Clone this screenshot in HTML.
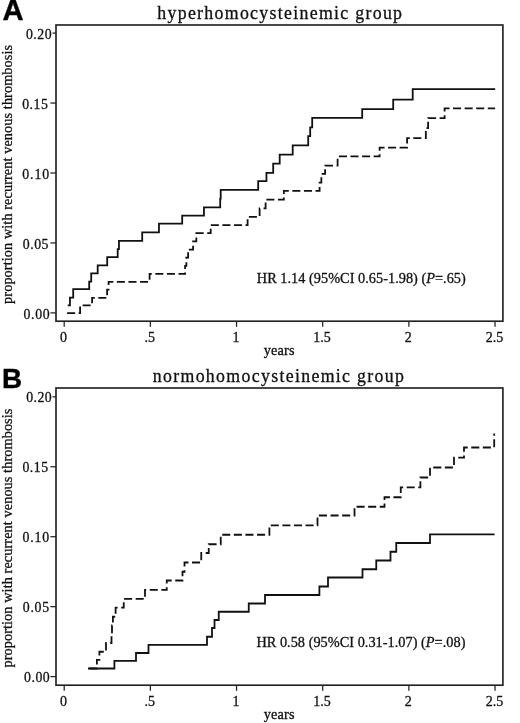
<!DOCTYPE html>
<html><head><meta charset="utf-8"><title>Recurrent venous thrombosis</title>
<style>
html,body{margin:0;padding:0;background:#fff;}
body{width:520px;height:723px;overflow:hidden;}
svg{display:block;filter:grayscale(1) blur(0.45px);}
.s{font-family:"Liberation Serif",serif;fill:#111;stroke:#111;stroke-width:0.3px;}
.b{font-family:"Liberation Sans",sans-serif;font-weight:bold;fill:#000;stroke:#000;stroke-width:0.4px;}
</style></head>
<body>
<svg width="520" height="723" viewBox="0 0 520 723">
<rect width="520" height="723" fill="#fff"/>
<rect x="56.0" y="25" width="446.90" height="296.20" fill="none" stroke="#222" stroke-width="1.65"/>
<line x1="50.4" y1="312.90" x2="56.0" y2="312.90" stroke="#222" stroke-width="1.25"/>
<text x="23.45" y="318.50" font-size="13.8" class="s" textLength="26.30" lengthAdjust="spacing">0.00</text>
<line x1="50.4" y1="242.95" x2="56.0" y2="242.95" stroke="#222" stroke-width="1.25"/>
<text x="22.80" y="248.55" font-size="13.8" class="s" textLength="25.70" lengthAdjust="spacing">0.05</text>
<line x1="50.4" y1="173.00" x2="56.0" y2="173.00" stroke="#222" stroke-width="1.25"/>
<text x="22.20" y="178.60" font-size="13.8" class="s" textLength="26.90" lengthAdjust="spacing">0.10</text>
<line x1="50.4" y1="103.05" x2="56.0" y2="103.05" stroke="#222" stroke-width="1.25"/>
<text x="22.20" y="108.65" font-size="13.8" class="s" textLength="25.70" lengthAdjust="spacing">0.15</text>
<line x1="52.5" y1="33.10" x2="56.0" y2="33.10" stroke="#222" stroke-width="1.25"/>
<text x="25.95" y="38.70" font-size="13.8" class="s" textLength="25.65" lengthAdjust="spacing">0.20</text>
<line x1="64.20" y1="321.2" x2="64.20" y2="326.80" stroke="#222" stroke-width="1.25"/>
<text x="63.60" y="341.80" text-anchor="middle" font-size="14" class="s">0</text>
<line x1="150.37" y1="321.2" x2="150.37" y2="326.80" stroke="#222" stroke-width="1.25"/>
<text x="149.77" y="341.80" text-anchor="middle" font-size="14" class="s">.5</text>
<line x1="236.54" y1="321.2" x2="236.54" y2="326.80" stroke="#222" stroke-width="1.25"/>
<text x="235.94" y="341.80" text-anchor="middle" font-size="14" class="s">1</text>
<line x1="322.71" y1="321.2" x2="322.71" y2="326.80" stroke="#222" stroke-width="1.25"/>
<text x="322.11" y="341.80" text-anchor="middle" font-size="14" class="s">1.5</text>
<line x1="408.88" y1="321.2" x2="408.88" y2="326.80" stroke="#222" stroke-width="1.25"/>
<text x="408.28" y="341.80" text-anchor="middle" font-size="14" class="s">2</text>
<line x1="495.05" y1="321.2" x2="495.05" y2="326.80" stroke="#222" stroke-width="1.25"/>
<text x="494.45" y="341.80" text-anchor="middle" font-size="14" class="s">2.5</text>
<text x="279.1" y="354.60" text-anchor="middle" font-size="14.3" class="s" textLength="30.8" lengthAdjust="spacing">years</text>
<text transform="translate(12.4,174.40) rotate(-90)" text-anchor="middle" font-size="14.3" class="s" textLength="259" lengthAdjust="spacing">proportion with recurrent venous thrombosis</text>
<text x="157.3" y="18.6" font-size="17.8" class="s" textLength="244.70" lengthAdjust="spacing">hyperhomocysteinemic group</text>
<text x="2.5" y="19.6" font-size="29.2" class="b">A</text>
<text x="256.8" y="283.4" font-size="14.3" class="s" textLength="209" lengthAdjust="spacing">HR 1.14 (95%CI 0.65-1.98) (<tspan font-style="italic">P</tspan>=.65)</text>
<path d="M67.70 305.35 L69.95 305.35 L69.95 297.60 L73.20 297.60 L73.20 289.10 L89.20 289.10 L89.20 281.60 L91.20 281.60 L91.20 273.35 L97.70 273.35 L97.70 265.35 L107.20 265.35 L107.20 257.10 L117.70 257.10 L117.70 249.10 L118.95 249.10 L118.95 240.85 L142.20 240.85 L142.20 232.35 L158.95 232.35 L158.95 223.60 L182.20 223.60 L182.20 215.60 L203.95 215.60 L203.95 207.35 L220.20 207.35 L220.20 198.60 L220.70 198.60 L220.70 189.85 L258.20 189.85 L258.20 181.10 L266.45 181.10 L266.45 172.85 L273.20 172.85 L273.20 163.60 L279.70 163.60 L279.70 154.60 L292.70 154.60 L292.70 145.35 L308.20 145.35 L308.20 136.10 L310.20 136.10 L310.20 127.35 L312.20 127.35 L312.20 117.85 L362.20 117.85 L362.20 109.10 L393.20 109.10 L393.20 99.60 L412.70 99.60 L412.70 89.10 L495.20 89.10" fill="none" stroke="#111" stroke-width="1.8" stroke-linejoin="miter"/>
<path d="M67.10 313.10 L80.10 313.10 L80.10 305.45 L92.10 305.45 L92.10 297.95 L107.10 297.95 L107.10 289.70 L108.60 289.70 L108.60 281.80 L149.60 281.80 L149.60 273.95 L185.10 273.95 L185.10 265.80 L186.35 265.80 L186.35 257.70 L188.10 257.70 L188.10 249.60 L193.10 249.60 L193.10 241.45 L196.35 241.45 L196.35 233.20 L210.70 233.20 L210.70 225.20 L247.60 225.20 L247.60 216.95 L259.60 216.95 L259.60 208.45 L265.60 208.45 L265.60 199.70 L283.85 199.70 L283.85 190.95 L319.60 190.95 L319.60 182.70 L321.35 182.70 L321.35 173.95 L325.10 173.95 L325.10 165.70 L337.60 165.70 L337.60 156.45 L379.60 156.45 L379.60 147.70 L407.10 147.70 L407.10 138.20 L425.85 138.20 L425.85 128.20 L428.10 128.20 L428.10 118.20 L444.60 118.20 L444.60 108.45 L495.10 108.45" fill="none" stroke="#111" stroke-width="1.8" stroke-dasharray="8.05 3.53" stroke-dashoffset="0" stroke-linejoin="miter"/>
<rect x="56.0" y="388.0" width="446.90" height="297.20" fill="none" stroke="#222" stroke-width="1.65"/>
<line x1="50.4" y1="676.60" x2="56.0" y2="676.60" stroke="#222" stroke-width="1.25"/>
<text x="24.10" y="682.20" font-size="13.8" class="s" textLength="25.65" lengthAdjust="spacing">0.00</text>
<line x1="50.4" y1="606.65" x2="56.0" y2="606.65" stroke="#222" stroke-width="1.25"/>
<text x="22.80" y="612.25" font-size="13.8" class="s" textLength="26.30" lengthAdjust="spacing">0.05</text>
<line x1="50.4" y1="536.70" x2="56.0" y2="536.70" stroke="#222" stroke-width="1.25"/>
<text x="22.45" y="542.30" font-size="13.8" class="s" textLength="26.65" lengthAdjust="spacing">0.10</text>
<line x1="50.4" y1="466.75" x2="56.0" y2="466.75" stroke="#222" stroke-width="1.25"/>
<text x="22.45" y="472.35" font-size="13.8" class="s" textLength="25.65" lengthAdjust="spacing">0.15</text>
<line x1="52.5" y1="396.80" x2="56.0" y2="396.80" stroke="#222" stroke-width="1.25"/>
<text x="26.20" y="402.40" font-size="13.8" class="s" textLength="25.40" lengthAdjust="spacing">0.20</text>
<line x1="64.20" y1="685.2" x2="64.20" y2="690.80" stroke="#222" stroke-width="1.25"/>
<text x="63.60" y="705.80" text-anchor="middle" font-size="14" class="s">0</text>
<line x1="150.37" y1="685.2" x2="150.37" y2="690.80" stroke="#222" stroke-width="1.25"/>
<text x="149.77" y="705.80" text-anchor="middle" font-size="14" class="s">.5</text>
<line x1="236.54" y1="685.2" x2="236.54" y2="690.80" stroke="#222" stroke-width="1.25"/>
<text x="235.94" y="705.80" text-anchor="middle" font-size="14" class="s">1</text>
<line x1="322.71" y1="685.2" x2="322.71" y2="690.80" stroke="#222" stroke-width="1.25"/>
<text x="322.11" y="705.80" text-anchor="middle" font-size="14" class="s">1.5</text>
<line x1="408.88" y1="685.2" x2="408.88" y2="690.80" stroke="#222" stroke-width="1.25"/>
<text x="408.28" y="705.80" text-anchor="middle" font-size="14" class="s">2</text>
<line x1="495.05" y1="685.2" x2="495.05" y2="690.80" stroke="#222" stroke-width="1.25"/>
<text x="494.45" y="705.80" text-anchor="middle" font-size="14" class="s">2.5</text>
<text x="279.1" y="718.60" text-anchor="middle" font-size="14.3" class="s" textLength="30.8" lengthAdjust="spacing">years</text>
<text transform="translate(12.4,538.10) rotate(-90)" text-anchor="middle" font-size="14.3" class="s" textLength="259" lengthAdjust="spacing">proportion with recurrent venous thrombosis</text>
<text x="152.8" y="381.6" font-size="17.8" class="s" textLength="251.10" lengthAdjust="spacing">normohomocysteinemic group</text>
<text x="2.0" y="387.6" font-size="27.8" class="b">B</text>
<text x="256.4" y="646.7" font-size="14.3" class="s" textLength="209" lengthAdjust="spacing">HR 0.58 (95%CI 0.31-1.07) (<tspan font-style="italic">P</tspan>=.08)</text>
<path d="M88.00 668.50 L114.40 668.50 L114.40 660.90 L136.00 660.90 L136.00 653.00 L148.50 653.00 L148.50 644.80 L207.00 644.80 L207.00 636.75 L212.00 636.75 L212.00 628.00 L214.50 628.00 L214.50 620.00 L218.75 620.00 L218.75 611.75 L248.75 611.75 L248.75 603.50 L265.00 603.50 L265.00 595.00 L319.40 595.00 L319.40 586.50 L328.00 586.50 L328.00 577.50 L362.50 577.50 L362.50 569.25 L376.25 569.25 L376.25 560.50 L390.50 560.50 L390.50 551.75 L396.25 551.75 L396.25 543.00 L430.00 543.00 L430.00 534.40 L494.60 534.40" fill="none" stroke="#111" stroke-width="1.8" stroke-linejoin="miter"/>
<path d="M88.00 668.50 L96.90 668.50 L96.90 659.90 L99.40 659.90 L99.40 651.75 L106.00 651.75 L106.00 643.00 L111.50 643.00 L111.50 634.25 L112.00 634.25 L112.00 625.50 L112.90 625.50 L112.90 616.75 L115.60 616.75 L115.60 607.60 L123.75 607.60 L123.75 598.90 L145.00 598.90 L145.00 589.80 L166.75 589.80 L166.75 580.50 L182.50 580.50 L182.50 571.75 L184.50 571.75 L184.50 562.50 L201.25 562.50 L201.25 553.00 L208.75 553.00 L208.75 544.25 L220.75 544.25 L220.75 534.75 L269.40 534.75 L269.40 525.30 L317.50 525.30 L317.50 515.50 L354.50 515.50 L354.50 506.75 L384.50 506.75 L384.50 497.25 L400.75 497.25 L400.75 487.30 L420.40 487.30 L420.40 477.50 L430.00 477.50 L430.00 467.50 L454.00 467.50 L454.00 457.70 L464.00 457.70 L464.00 447.50 L494.20 447.50 L494.20 433.50" fill="none" stroke="#111" stroke-width="1.8" stroke-dasharray="8.05 3.545" stroke-dashoffset="-1.3" stroke-linejoin="miter"/>
</svg>
</body></html>
